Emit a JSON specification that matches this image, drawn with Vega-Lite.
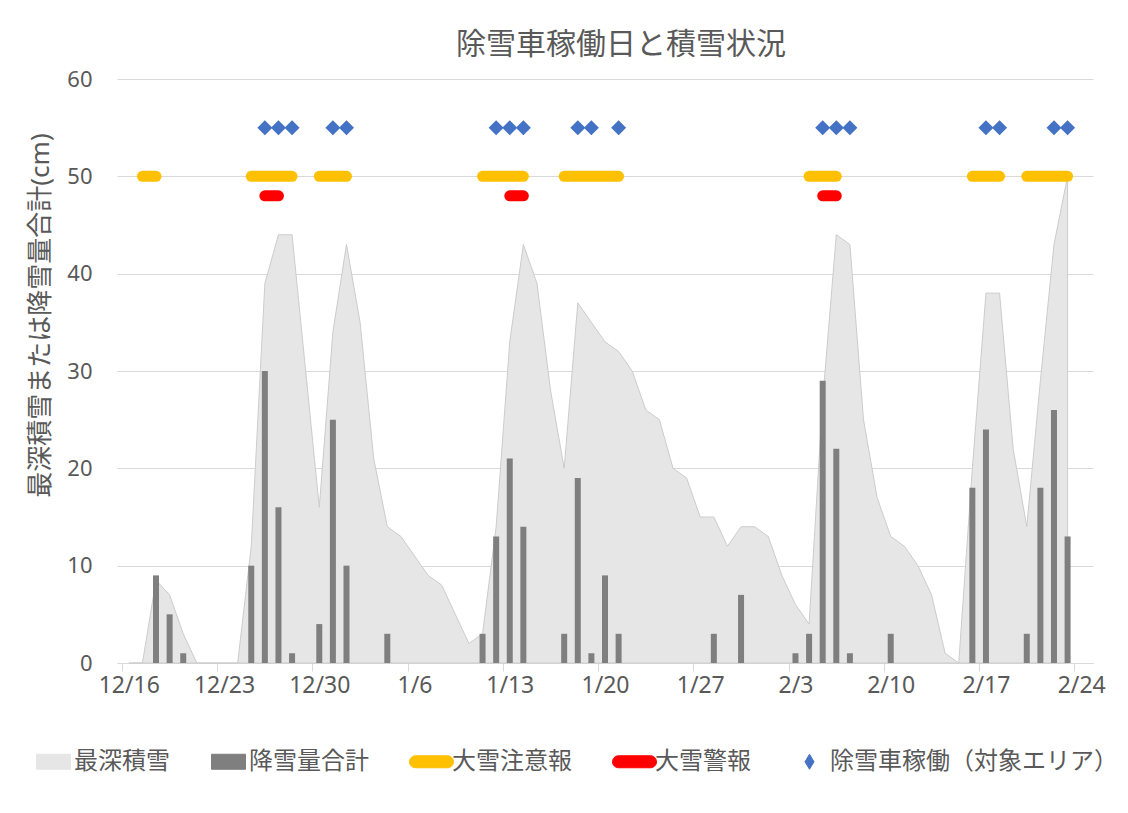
{
  "$schema": "https://vega.github.io/schema/vega-lite/v6.json",
  "width": 976,
  "height": 584,
  "autosize": {"type": "none"},
  "padding": {"left": 117, "top": 79, "right": 35, "bottom": 150},
  "background": "white",
  "config": {
    "font": "Noto Sans, Noto Sans CJK JP",
    "view": {"stroke": null}
  },
  "title": {
    "text": "除雪車稼働日と積雪状況",
    "fontSize": 30,
    "fontWeight": "normal",
    "color": "#595959",
    "anchor": "middle",
    "frame": "group",
    "dx": 16,
    "offset": 8
  },
  "datasets": {
    "depth": [
      {"date": "2018/12/16", "depth": 0}, {"date": "2018/12/17", "depth": 0},
      {"date": "2018/12/18", "depth": 8.5}, {"date": "2018/12/19", "depth": 7},
      {"date": "2018/12/20", "depth": 3}, {"date": "2018/12/21", "depth": 0},
      {"date": "2018/12/22", "depth": 0}, {"date": "2018/12/23", "depth": 0},
      {"date": "2018/12/24", "depth": 0}, {"date": "2018/12/25", "depth": 12},
      {"date": "2018/12/26", "depth": 39}, {"date": "2018/12/27", "depth": 44},
      {"date": "2018/12/28", "depth": 44}, {"date": "2018/12/29", "depth": 30},
      {"date": "2018/12/30", "depth": 16}, {"date": "2018/12/31", "depth": 34},
      {"date": "2019/01/01", "depth": 43}, {"date": "2019/01/02", "depth": 35},
      {"date": "2019/01/03", "depth": 21}, {"date": "2019/01/04", "depth": 14},
      {"date": "2019/01/05", "depth": 13}, {"date": "2019/01/06", "depth": 11},
      {"date": "2019/01/07", "depth": 9}, {"date": "2019/01/08", "depth": 8},
      {"date": "2019/01/09", "depth": 5}, {"date": "2019/01/10", "depth": 2},
      {"date": "2019/01/11", "depth": 3}, {"date": "2019/01/12", "depth": 14},
      {"date": "2019/01/13", "depth": 33}, {"date": "2019/01/14", "depth": 43},
      {"date": "2019/01/15", "depth": 39}, {"date": "2019/01/16", "depth": 28},
      {"date": "2019/01/17", "depth": 20}, {"date": "2019/01/18", "depth": 37},
      {"date": "2019/01/19", "depth": 35}, {"date": "2019/01/20", "depth": 33},
      {"date": "2019/01/21", "depth": 32}, {"date": "2019/01/22", "depth": 30},
      {"date": "2019/01/23", "depth": 26}, {"date": "2019/01/24", "depth": 25},
      {"date": "2019/01/25", "depth": 20}, {"date": "2019/01/26", "depth": 19},
      {"date": "2019/01/27", "depth": 15}, {"date": "2019/01/28", "depth": 15},
      {"date": "2019/01/29", "depth": 12}, {"date": "2019/01/30", "depth": 14},
      {"date": "2019/01/31", "depth": 14}, {"date": "2019/02/01", "depth": 13},
      {"date": "2019/02/02", "depth": 9}, {"date": "2019/02/03", "depth": 6},
      {"date": "2019/02/04", "depth": 4}, {"date": "2019/02/05", "depth": 27},
      {"date": "2019/02/06", "depth": 44}, {"date": "2019/02/07", "depth": 43},
      {"date": "2019/02/08", "depth": 25}, {"date": "2019/02/09", "depth": 17},
      {"date": "2019/02/10", "depth": 13}, {"date": "2019/02/11", "depth": 12},
      {"date": "2019/02/12", "depth": 10}, {"date": "2019/02/13", "depth": 7},
      {"date": "2019/02/14", "depth": 1}, {"date": "2019/02/15", "depth": 0},
      {"date": "2019/02/16", "depth": 20}, {"date": "2019/02/17", "depth": 38},
      {"date": "2019/02/18", "depth": 38}, {"date": "2019/02/19", "depth": 22},
      {"date": "2019/02/20", "depth": 14}, {"date": "2019/02/21", "depth": 29},
      {"date": "2019/02/22", "depth": 43}, {"date": "2019/02/23", "depth": 50}
    ],
    "snowfall": [
      {"date": "2018/12/18", "snowfall": 9}, {"date": "2018/12/19", "snowfall": 5},
      {"date": "2018/12/20", "snowfall": 1}, {"date": "2018/12/25", "snowfall": 10},
      {"date": "2018/12/26", "snowfall": 30}, {"date": "2018/12/27", "snowfall": 16},
      {"date": "2018/12/28", "snowfall": 1}, {"date": "2018/12/30", "snowfall": 4},
      {"date": "2018/12/31", "snowfall": 25}, {"date": "2019/01/01", "snowfall": 10},
      {"date": "2019/01/04", "snowfall": 3}, {"date": "2019/01/11", "snowfall": 3},
      {"date": "2019/01/12", "snowfall": 13}, {"date": "2019/01/13", "snowfall": 21},
      {"date": "2019/01/14", "snowfall": 14}, {"date": "2019/01/17", "snowfall": 3},
      {"date": "2019/01/18", "snowfall": 19}, {"date": "2019/01/19", "snowfall": 1},
      {"date": "2019/01/20", "snowfall": 9}, {"date": "2019/01/21", "snowfall": 3},
      {"date": "2019/01/28", "snowfall": 3}, {"date": "2019/01/30", "snowfall": 7},
      {"date": "2019/02/03", "snowfall": 1}, {"date": "2019/02/04", "snowfall": 3},
      {"date": "2019/02/05", "snowfall": 29}, {"date": "2019/02/06", "snowfall": 22},
      {"date": "2019/02/07", "snowfall": 1}, {"date": "2019/02/10", "snowfall": 3},
      {"date": "2019/02/16", "snowfall": 18}, {"date": "2019/02/17", "snowfall": 24},
      {"date": "2019/02/20", "snowfall": 3}, {"date": "2019/02/21", "snowfall": 18},
      {"date": "2019/02/22", "snowfall": 26}, {"date": "2019/02/23", "snowfall": 13}
    ],
    "advisory": [
      {"start": "2018/12/17", "end": "2018/12/18", "level": 50},
      {"start": "2018/12/25", "end": "2018/12/28", "level": 50},
      {"start": "2018/12/30", "end": "2019/01/01", "level": 50},
      {"start": "2019/01/11", "end": "2019/01/14", "level": 50},
      {"start": "2019/01/17", "end": "2019/01/21", "level": 50},
      {"start": "2019/02/04", "end": "2019/02/06", "level": 50},
      {"start": "2019/02/16", "end": "2019/02/18", "level": 50},
      {"start": "2019/02/20", "end": "2019/02/23", "level": 50}
    ],
    "warning": [
      {"start": "2018/12/26", "end": "2018/12/27", "level": 48},
      {"start": "2019/01/13", "end": "2019/01/14", "level": 48},
      {"start": "2019/02/05", "end": "2019/02/06", "level": 48}
    ],
    "plow": [
      {"date": "2018/12/26", "level": 55}, {"date": "2018/12/27", "level": 55},
      {"date": "2018/12/28", "level": 55}, {"date": "2018/12/31", "level": 55},
      {"date": "2019/01/01", "level": 55}, {"date": "2019/01/12", "level": 55},
      {"date": "2019/01/13", "level": 55}, {"date": "2019/01/14", "level": 55},
      {"date": "2019/01/18", "level": 55}, {"date": "2019/01/19", "level": 55},
      {"date": "2019/01/21", "level": 55}, {"date": "2019/02/05", "level": 55},
      {"date": "2019/02/06", "level": 55}, {"date": "2019/02/07", "level": 55},
      {"date": "2019/02/17", "level": 55}, {"date": "2019/02/18", "level": 55},
      {"date": "2019/02/22", "level": 55}, {"date": "2019/02/23", "level": 55}
    ]
  },
  "layer": [
    {
      "data": {"name": "depth"},
      "mark": {"type": "area", "stroke": "#cccccc", "strokeWidth": 1, "interpolate": "linear", "opacity": 1},
      "encoding": {
        "x": {
          "field": "date",
          "type": "temporal",
          "title": null,
          "scale": {
            "domain": [
              {"year": 2018, "month": 12, "date": 15, "hours": 12},
              {"year": 2019, "month": 2, "date": 24, "hours": 12}
            ],
            "nice": false
          },
          "axis": {
            "values": [
              {"year": 2018, "month": 12, "date": 16},
              {"year": 2018, "month": 12, "date": 23},
              {"year": 2018, "month": 12, "date": 30},
              {"year": 2019, "month": 1, "date": 6},
              {"year": 2019, "month": 1, "date": 13},
              {"year": 2019, "month": 1, "date": 20},
              {"year": 2019, "month": 1, "date": 27},
              {"year": 2019, "month": 2, "date": 3},
              {"year": 2019, "month": 2, "date": 10},
              {"year": 2019, "month": 2, "date": 17},
              {"year": 2019, "month": 2, "date": 24}
            ],
            "format": "%-m/%-d",
            "tickOffset": -6.873,
            "labelOffset": 6.873,
            "grid": false,
            "domainColor": "#d9d9d9",
            "tickColor": "#d9d9d9",
            "tickSize": 8,
            "labelFontSize": 23,
            "labelColor": "#595959",
            "labelPadding": 3,
            "labelFlush": false,
            "labelOverlap": false,
            "title": null
          }
        },
        "y": {
          "field": "depth",
          "type": "quantitative",
          "title": "最深積雪または降雪量合計(cm)",
          "scale": {"domain": [0, 60], "nice": false},
          "axis": {
            "values": [0, 10, 20, 30, 40, 50, 60],
            "grid": true,
            "gridColor": "#d9d9d9",
            "domain": false,
            "ticks": false,
            "tickSize": 0,
            "labelPadding": 25,
            "labelFontSize": 22,
            "labelColor": "#595959",
            "titleFontSize": 26,
            "titleFontWeight": "normal",
            "titleColor": "#595959",
            "titleX": -77,
            "titleY": 236,
            "titleAngle": -90,
            "titleAlign": "center",
            "titleBaseline": "middle"
          }
        },
        "color": {
          "datum": "最深積雪",
          "type": "nominal",
          "scale": {
            "domain": ["最深積雪", "降雪量合計", "大雪注意報", "大雪警報", "除雪車稼働（対象エリア）"],
            "range": ["#e6e6e6", "#7f7f7f", "#ffc000", "#ff0000", "#4472c4"]
          },
          "legend": {
            "title": null,
            "orient": "none",
            "legendX": -84,
            "legendY": 662,
            "direction": "horizontal",
            "symbolSize": 1600,
            "labelFontSize": 24,
            "labelColor": "#595959",
            "labelLimit": 400,
            "labelOffset": 0,
            "columnPadding": 38,
            "encoding": {
              "symbols": {
                "shape": {"value": {"expr": "(datum.value === '最深積雪' || datum.value === '降雪量合計') ? 'M-0.85,-0.375H0.85V0.375H-0.85Z' : (datum.value === '除雪車稼働（対象エリア）' ? 'M0,-0.375L0.225,0L0,0.375L-0.225,0Z' : 'M-0.8,-0.3H0.8A0.3,0.3,0,0,1,0.8,0.3H-0.8A0.3,0.3,0,0,1,-0.8,-0.3Z')"}},
                "fill": {"value": {"expr": "scale('color', datum.value)"}},
                "stroke": {"value": {"expr": "datum.value === '最深積雪' ? '#cccccc' : 'transparent'"}},
                "strokeWidth": {"value": 1},
                "opacity": {"value": 1},
                "fillOpacity": {"value": 1},
                "size": {"value": 1600}
              }
            }
          }
        }
      }
    },
    {
      "data": {"name": "snowfall"},
      "mark": {"type": "bar", "width": 6},
      "encoding": {
        "x": {"field": "date", "type": "temporal", "title": null},
        "y": {"field": "snowfall", "type": "quantitative", "title": "最深積雪または降雪量合計(cm)"},
        "color": {"datum": "降雪量合計", "type": "nominal"}
      }
    },
    {
      "data": {"name": "advisory"},
      "mark": {"type": "rule", "strokeWidth": 11, "strokeCap": "round"},
      "encoding": {
        "x": {"field": "start", "type": "temporal", "title": null},
        "x2": {"field": "end"},
        "y": {"field": "level", "type": "quantitative", "title": "最深積雪または降雪量合計(cm)"},
        "color": {"datum": "大雪注意報", "type": "nominal"}
      }
    },
    {
      "data": {"name": "warning"},
      "mark": {"type": "rule", "strokeWidth": 11, "strokeCap": "round"},
      "encoding": {
        "x": {"field": "start", "type": "temporal", "title": null},
        "x2": {"field": "end"},
        "y": {"field": "level", "type": "quantitative", "title": "最深積雪または降雪量合計(cm)"},
        "color": {"datum": "大雪警報", "type": "nominal"}
      }
    },
    {
      "data": {"name": "plow"},
      "mark": {"type": "point", "shape": "diamond", "filled": true, "size": 225, "opacity": 1},
      "encoding": {
        "x": {"field": "date", "type": "temporal", "title": null},
        "y": {"field": "level", "type": "quantitative", "title": "最深積雪または降雪量合計(cm)"},
        "color": {"datum": "除雪車稼働（対象エリア）", "type": "nominal"}
      }
    }
  ]
}
